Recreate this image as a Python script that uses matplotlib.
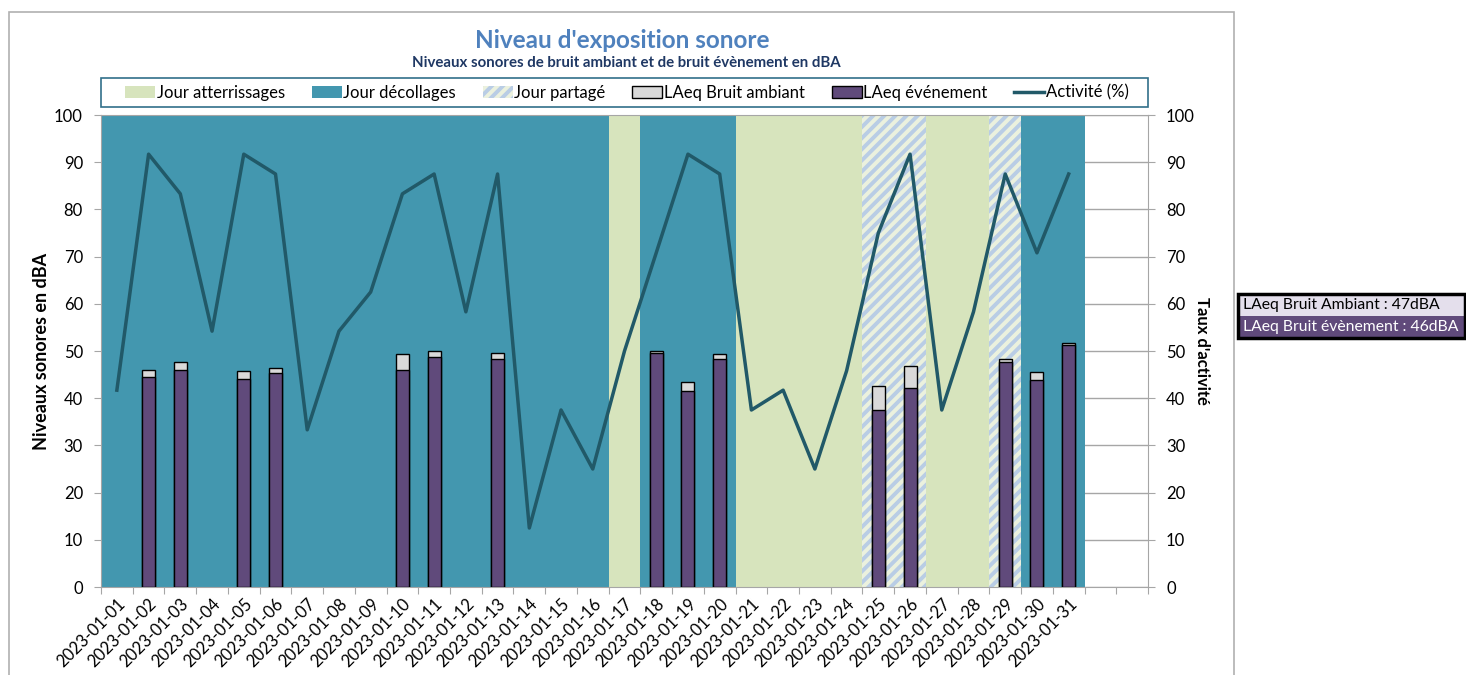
import matplotlib
matplotlib.use("Agg")
import matplotlib.pyplot as plt
from matplotlib.patches import Rectangle, Patch
from matplotlib.lines import Line2D

# Data
dates = [
    "2023-01-01", "2023-01-02", "2023-01-03", "2023-01-04", "2023-01-05", "2023-01-06",
    "2023-01-07", "2023-01-08", "2023-01-09", "2023-01-10", "2023-01-11", "2023-01-12",
    "2023-01-13", "2023-01-14", "2023-01-15", "2023-01-16", "2023-01-17", "2023-01-18",
    "2023-01-19", "2023-01-20", "2023-01-21", "2023-01-22", "2023-01-23", "2023-01-24",
    "2023-01-25", "2023-01-26", "2023-01-27", "2023-01-28", "2023-01-29", "2023-01-30",
    "2023-01-31",
]
# D = décollages, A = atterrissages, P = partagé
day_type = ["D"] * 16 + ["A"] + ["D"] * 3 + ["A"] * 4 + ["P"] * 2 + ["A"] * 2 + ["P"] + ["D"] * 2

bar_days = ["2023-01-02", "2023-01-03", "2023-01-05", "2023-01-06", "2023-01-10",
            "2023-01-11", "2023-01-13", "2023-01-18", "2023-01-19", "2023-01-20",
            "2023-01-25", "2023-01-26", "2023-01-29", "2023-01-30", "2023-01-31"]
laeq_ambiant = [46.0, 47.6, 45.7, 46.5, 49.4, 49.9, 49.5, 50.1, 43.5, 49.4, 42.5, 46.8, 48.4, 45.6, 51.6]
laeq_evenement = [44.4, 45.9, 44.1, 45.4, 45.9, 48.7, 48.2, 49.6, 41.6, 48.4, 37.6, 42.2, 47.6, 43.9, 51.2]

activite = [41.7, 91.7, 83.3, 54.2, 91.7, 87.5, 33.3, 54.2, 62.5, 83.3, 87.5, 58.3, 87.5, 12.5,
            37.5, 25.0, 50.0, 70.8, 91.7, 87.5, 37.5, 41.7, 25.0, 45.8, 75.0, 91.7, 37.5, 58.3,
            87.5, 70.8, 87.5]

n_cats = 33  # 31 days + 2 empty slots on the category axis

# Style
C_DECO = "#4397AF"
C_ATTER = "#D7E4BD"
C_PART_BG = "#EBF1DE"
C_PART_HATCH = "#B9CDE5"
C_AMB = "#D9D9D9"
C_EVT = "#604A7B"
C_LINE = "#215968"
C_GRID = "#A6A6A6"

plt.rcParams["font.family"] = ["Lato", "DejaVu Sans"]
plt.rcParams["hatch.linewidth"] = 2.8

W, H = 1466, 675
fig = plt.figure(figsize=(W / 100, H / 100), dpi=100)
ax = fig.add_axes([101 / W, 1 - 587 / H, (1148 - 101) / W, (587 - 115) / H])

# background day spans
for i, t in enumerate(day_type):
    if t == "D":
        ax.axvspan(i - 0.5, i + 0.5, facecolor=C_DECO, lw=0, zorder=1)
    elif t == "A":
        ax.axvspan(i - 0.5, i + 0.5, facecolor=C_ATTER, lw=0, zorder=1)
    else:
        ax.axvspan(i - 0.5, i + 0.5, facecolor=C_PART_BG, edgecolor=C_PART_HATCH,
                   hatch="///", lw=0, zorder=1)

# bars
xpos = [dates.index(d) for d in bar_days]
ax.bar(xpos, laeq_ambiant, width=0.41, color=C_AMB, edgecolor="black", lw=1, zorder=3)
ax.bar(xpos, laeq_evenement, width=0.41, color=C_EVT, edgecolor="black", lw=1, zorder=4)

ax.set_xlim(-0.5, n_cats - 0.5)
ax.set_ylim(0, 100)
ax.set_yticks(range(0, 101, 10))
ax.yaxis.grid(True, color=C_GRID, lw=1)
ax.set_axisbelow(True)

ax.set_xticks([i - 0.5 for i in range(n_cats + 1)])
ax.set_xticklabels([])
ax.set_xticks(range(len(dates)), minor=True)
ax.set_xticklabels(dates, minor=True, rotation=45, ha="right", va="top",
                   rotation_mode="anchor", fontsize=12)
ax.tick_params(axis="x", which="major", length=5, color=C_GRID)
ax.tick_params(axis="x", which="minor", length=0, pad=6)
ax.tick_params(axis="y", length=5, color=C_GRID, labelsize=12, pad=8)
for s in ["left", "bottom", "top"]:
    ax.spines[s].set_color(C_GRID)
ax.spines["right"].set_visible(False)
ax.set_ylabel("Niveaux sonores en dBA", fontsize=13, fontweight="bold", labelpad=3)

# activity line on secondary axis
ax2 = ax.twinx()
ax2.plot(range(len(activite)), activite, color=C_LINE, lw=2.5, zorder=5)
ax2.set_ylim(0, 100)
ax2.set_yticks(range(0, 101, 10))
ax2.tick_params(axis="y", length=5, color=C_GRID, labelsize=12, pad=8)
for s in ["left", "bottom", "top"]:
    ax2.spines[s].set_visible(False)
ax2.spines["right"].set_color(C_GRID)
ax2.set_ylabel("Taux d'activité", fontsize=12, fontweight="bold", rotation=270, labelpad=11)

# titles
fig.text(622 / W, 1 - 40 / H, "Niveau d'exposition sonore", ha="center", va="center",
         fontsize=17.5, fontweight="bold", color="#4F81BD")
fig.text(626 / W, 1 - 63 / H, "Niveaux sonores de bruit ambiant et de bruit évènement en dBA",
         ha="center", va="center", fontsize=10.8, fontweight="bold", color="#1F3864")

# legend (frame drawn separately so the items can sit centred in it)
handles = [
    Patch(facecolor=C_ATTER, lw=0),
    Patch(facecolor=C_DECO, lw=0),
    Patch(facecolor=C_PART_BG, edgecolor=C_PART_HATCH, hatch="///", lw=0),
    Patch(facecolor=C_AMB, edgecolor="black", lw=1),
    Patch(facecolor=C_EVT, edgecolor="black", lw=1),
    Line2D([], [], color=C_LINE, lw=2.5),
]
labels = ["Jour atterrissages", "Jour décollages", "Jour partagé",
          "LAeq Bruit ambiant", "LAeq événement", "Activité (%)"]
fig.legend(handles, labels, loc="center", ncol=6,
           bbox_to_anchor=(627 / W, 1 - 92.5 / H), bbox_transform=fig.transFigure,
           fontsize=12, frameon=False, handlelength=1.8, handletextpad=0.1,
           columnspacing=1.6)


def fig_rect(x0, y0, x1, y1, **kw):
    fig.add_artist(Rectangle((x0 / W, 1 - y1 / H), (x1 - x0) / W, (y1 - y0) / H,
                             transform=fig.transFigure, **kw))


fig_rect(101, 78, 1148, 107, facecolor="none", edgecolor="#31708A", lw=1.2)

# chart frame
fig_rect(9, 12, 1234, 690, facecolor="none", edgecolor="#B0B0B0", lw=1.2)

# side summary box
fig_rect(1238, 294, 1465, 316, facecolor="#E4DFEC", edgecolor="none")
fig_rect(1238, 316, 1465, 338, facecolor=C_EVT, edgecolor="none")
fig_rect(1238, 294, 1465, 338, facecolor="none", edgecolor="black", lw=2.5)
fig.text(1243 / W, 1 - 305 / H, "LAeq Bruit Ambiant : 47dBA", ha="left", va="center",
         fontsize=11.3, color="black")
fig.text(1243 / W, 1 - 327 / H, "LAeq Bruit évènement : 46dBA", ha="left", va="center",
         fontsize=11.3, color="white")

fig.savefig("out.png", dpi=100)
